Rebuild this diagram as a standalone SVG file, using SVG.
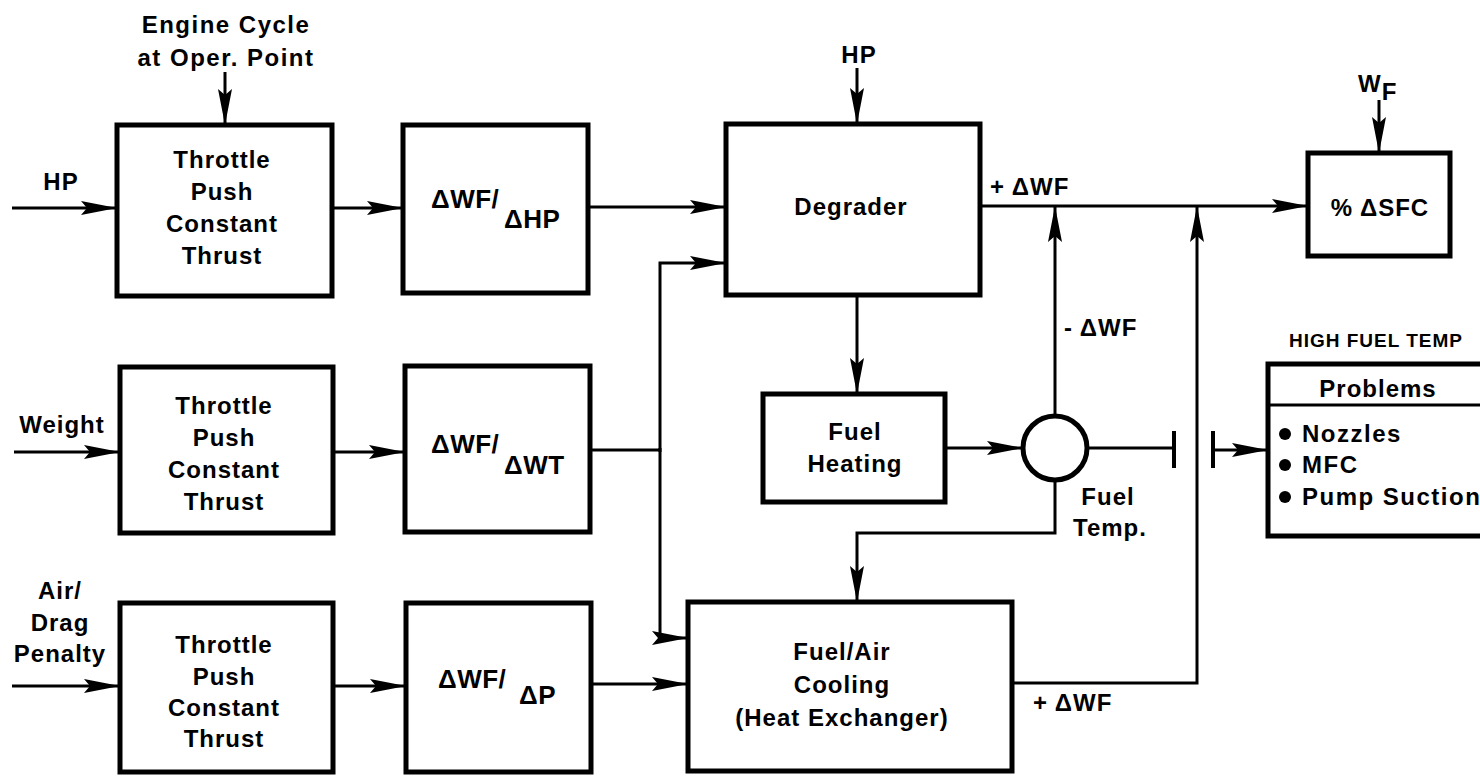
<svg xmlns="http://www.w3.org/2000/svg" width="1480" height="777" viewBox="0 0 1480 777">
<defs>
<marker id="arr" markerUnits="userSpaceOnUse" markerWidth="38" markerHeight="16" refX="36" refY="8" orient="auto">
<path d="M0,1 L36,8 L0,15 L6,8 z" fill="#000"/>
</marker>
<style>
.box{fill:#fff;stroke:#000;stroke-width:5}
.ln{fill:none;stroke:#000;stroke-width:3}
.ar{marker-end:url(#arr)}
text{font-family:"Liberation Sans",Arial,sans-serif;font-weight:bold;font-size:24px;fill:#000;letter-spacing:1px}
.c{text-anchor:middle}
.sm{font-size:19px;letter-spacing:1px}
.fr{font-size:26px;letter-spacing:0.5px}
</style>
</defs>
<rect width="1480" height="777" fill="#fff"/>

<g id="connectors">
<path class="ln ar" d="M12,208 H117"/>
<path class="ln ar" d="M332,208 H403"/>
<path class="ln ar" d="M225,72 V125"/>
<path class="ln ar" d="M588,207 H726"/>
<path class="ln ar" d="M857,68 V124"/>
<path class="ln ar" d="M980,206 H1308"/>
<path class="ln ar" d="M1379,100 V153"/>
<path class="ln ar" d="M857,295 V394"/>
<path class="ln ar" d="M945,448 H1023"/>
<path class="ln ar" d="M1055,415 V206"/>
<path class="ln" d="M1087,448 H1174"/>
<path class="ln" d="M1174,431 V468" style="stroke-width:4"/>
<path class="ln" d="M1213,431 V468" style="stroke-width:4"/>
<path class="ln ar" d="M1213,450 H1268"/>
<path class="ln ar" d="M1055,480 V533 H857 V602"/>
<path class="ln ar" d="M1012,683 H1197 V206"/>
<path class="ln ar" d="M14,452 H120"/>
<path class="ln ar" d="M333,452 H405"/>
<path class="ln" d="M590,450 H660"/>
<path class="ln ar" d="M660,452 V263 H726"/>
<path class="ln ar" d="M660,448 V638 H688"/>
<path class="ln ar" d="M12,686 H120"/>
<path class="ln ar" d="M333,686 H406"/>
<path class="ln ar" d="M591,684 H688"/>
</g>

<g id="labels">
<text class="c" x="226" y="33" style="letter-spacing:1.5px">Engine Cycle</text>
<text class="c" x="226" y="66" style="letter-spacing:1.5px">at Oper. Point</text>
<text class="c" x="61" y="190">HP</text>
<text class="c" x="62" y="433">Weight</text>
<text class="c" x="60" y="599">Air/</text>
<text class="c" x="60" y="631">Drag</text>
<text class="c" x="60" y="662">Penalty</text>
<text class="c" x="859" y="63">HP</text>
<text x="990" y="195">+ ΔWF</text>
<text x="1064" y="336">- ΔWF</text>
<text class="c" x="1108" y="505">Fuel</text>
<text class="c" x="1110" y="536">Temp.</text>
<text x="1033" y="711">+ ΔWF</text>
<text x="1358" y="92">W<tspan dy="8">F</tspan></text>
<text class="c sm" x="1376" y="347">HIGH FUEL TEMP</text>
</g>

<g id="n_throttle1">
<rect class="box" x="117" y="125" width="215" height="171"/>
<text class="c" x="222" y="168">Throttle</text>
<text class="c" x="222" y="200">Push</text>
<text class="c" x="222" y="232">Constant</text>
<text class="c" x="222" y="264">Thrust</text>
</g>
<g id="n_dhp">
<rect class="box" x="403" y="125" width="185" height="168"/>
<text class="fr" x="431" y="208">ΔWF/<tspan x="504" y="228">ΔHP</tspan></text>
</g>
<g id="n_throttle2">
<rect class="box" x="120" y="367" width="213" height="166"/>
<text class="c" x="224" y="414">Throttle</text>
<text class="c" x="224" y="446">Push</text>
<text class="c" x="224" y="478">Constant</text>
<text class="c" x="224" y="510">Thrust</text>
</g>
<g id="n_dwt">
<rect class="box" x="405" y="366" width="185" height="166"/>
<text class="fr" x="431" y="453">ΔWF/<tspan x="504" y="474">ΔWT</tspan></text>
</g>
<g id="n_throttle3">
<rect class="box" x="120" y="603" width="213" height="169"/>
<text class="c" x="224" y="653">Throttle</text>
<text class="c" x="224" y="685">Push</text>
<text class="c" x="224" y="716">Constant</text>
<text class="c" x="224" y="747">Thrust</text>
</g>
<g id="n_dp">
<rect class="box" x="406" y="603" width="185" height="169"/>
<text class="fr" x="438" y="688">ΔWF/<tspan x="519" y="704">ΔP</tspan></text>
</g>
<g id="n_degrader">
<rect class="box" x="726" y="124" width="254" height="171"/>
<text class="c" x="851" y="215">Degrader</text>
</g>
<g id="n_heating">
<rect class="box" x="763" y="394" width="182" height="108"/>
<text class="c" x="855" y="440">Fuel</text>
<text class="c" x="855" y="472">Heating</text>
</g>
<g id="n_junction">
<circle cx="1055" cy="448" r="32" fill="#fff" stroke="#000" stroke-width="5"/>
</g>
<g id="n_cooling">
<rect class="box" x="688" y="602" width="324" height="169"/>
<text class="c" x="842" y="660">Fuel/Air</text>
<text class="c" x="842" y="693">Cooling</text>
<text class="c" x="842" y="726">(Heat Exchanger)</text>
</g>
<g id="n_sfc">
<rect class="box" x="1308" y="153" width="142" height="103"/>
<text class="c" x="1380" y="216">% ΔSFC</text>
</g>
<g id="n_problems">
<rect class="box" x="1268" y="364" width="240" height="172"/>
<line x1="1268" y1="405" x2="1480" y2="405" stroke="#000" stroke-width="3"/>
<text class="c" x="1378" y="397">Problems</text>
<circle cx="1285" cy="434" r="6"/>
<circle cx="1285" cy="465" r="6"/>
<circle cx="1285" cy="497" r="6"/>
<text x="1302" y="442" style="letter-spacing:1.5px">Nozzles</text>
<text x="1302" y="473" style="letter-spacing:1.5px">MFC</text>
<text x="1302" y="505" style="letter-spacing:1.5px">Pump Suction</text>
</g>
</svg>
